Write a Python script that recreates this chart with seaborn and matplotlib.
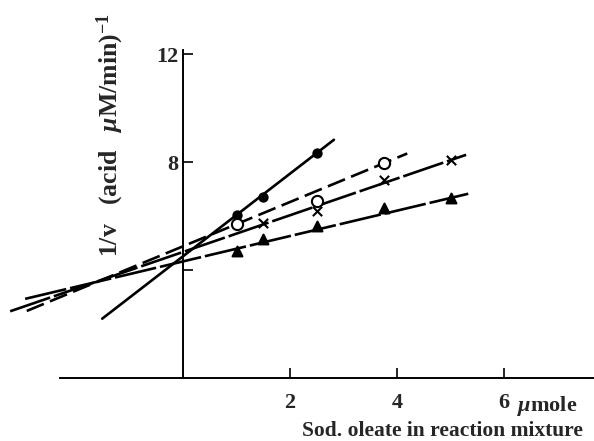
import numpy as np
import pandas as pd
import matplotlib
matplotlib.use("Agg")
import matplotlib.pyplot as plt
import seaborn as sns

sns.set_style("white")
plt.rcParams["font.family"] = ["Liberation Serif", "DejaVu Serif"]
plt.rcParams["mathtext.fontset"] = "custom"
plt.rcParams["mathtext.rm"] = "Liberation Serif:bold"
plt.rcParams["mathtext.it"] = "Liberation Serif:italic:bold"

# measured points (sodium oleate, umole) vs 1/v
x_filled = [1.0, 1.5, 2.5]
y_filled = [6.04, 6.70, 8.33]
x_open = [1.0, 2.5, 3.75]
y_open = [5.70, 6.56, 7.96]
x_cross = [1.5, 2.5, 3.75, 5.0]
y_cross = [5.74, 6.19, 7.33, 8.07]
x_tri = [1.0, 1.5, 2.5, 3.75, 5.0]
y_tri = [4.70, 5.15, 5.63, 6.30, 6.67]

# straight lines drawn through each series
line_names = ["filled", "open", "cross", "tri"]
line_slope = [1.53, 0.82, 0.68, 0.47]
line_icept = [4.51, 4.88, 4.67, 4.32]
line_xmin = [-1.51, -2.92, -3.23, -2.95]
line_xmax = [2.82, 4.19, 5.29, 5.33]
line_dash = [None, (7, 2.5), (16, 1.5), (16, 1.5)]

fig = plt.figure(figsize=(5.94, 4.41), dpi=100)
ax = fig.add_axes([0, 0, 1, 1])

for name, m, b, x0, x1, d in zip(line_names, line_slope, line_icept,
                                 line_xmin, line_xmax, line_dash):
    xs = np.array([x0, x1])
    df = pd.DataFrame({"x": xs, "y": b + m * xs})
    sns.lineplot(data=df, x="x", y="y", ax=ax, color="black", lw=1.9,
                 linestyle="-" if d is None else (0, d), zorder=2)

pts = [
    (x_filled, y_filled, "o", "black", 35),
    (x_open, y_open, "o", "white", 65),
    (x_cross, y_cross, "x", "black", 45),
    (x_tri, y_tri, "^", "black", 50),
]
for xs, ys, mk, fc, s in pts:
    sns.scatterplot(x=xs, y=ys, marker=mk, s=s, color=fc, edgecolor="black",
                    linewidth=1.5, ax=ax, zorder=3)

ax.set_xlim(-3.42, 7.68)
ax.set_ylim(-2.33, 14.0)
ax.patch.set_visible(False)
for s in ["top", "right"]:
    ax.spines[s].set_visible(False)
ax.spines["left"].set_position(("data", 0))
ax.spines["bottom"].set_position(("data", 0))
ax.spines["left"].set_bounds(0, 12.15)
ax.spines["bottom"].set_bounds(-2.3, 7.68)
for s in ["left", "bottom"]:
    ax.spines[s].set_linewidth(1.4)
    ax.spines[s].set_color("black")

ax.set_xticks([2, 4, 6])
ax.set_xticklabels(["2", "4", "6"])
ax.set_yticks([4, 8, 12])
ax.set_yticklabels(["", "8", "12"])
ax.tick_params(bottom=True, left=True, direction="in", length=7, width=1.2,
               labelsize=16, color="black")
ax.tick_params(axis="x", pad=11)
ax.tick_params(axis="y", pad=3)
for lab in ax.get_xticklabels() + ax.get_yticklabels():
    lab.set_fontweight("bold")
ax.set_xlabel("")
ax.set_ylabel("")

ax.text(6.25, -1.05, r"$\mu$mole", fontsize=16, fontweight="bold",
        ha="left", va="center")
ax.text(4.85, -1.95, "Sod. oleate in reaction mixture", fontsize=15.5,
        fontweight="bold", ha="center", va="center")
ax.text(-1.36, 9.0, r"1/v   (acid   $\mu$M/min)$^{-1}$", fontsize=18.5,
        fontweight="bold", rotation=90, ha="center", va="center")

fig.savefig("out.png", dpi=100)
